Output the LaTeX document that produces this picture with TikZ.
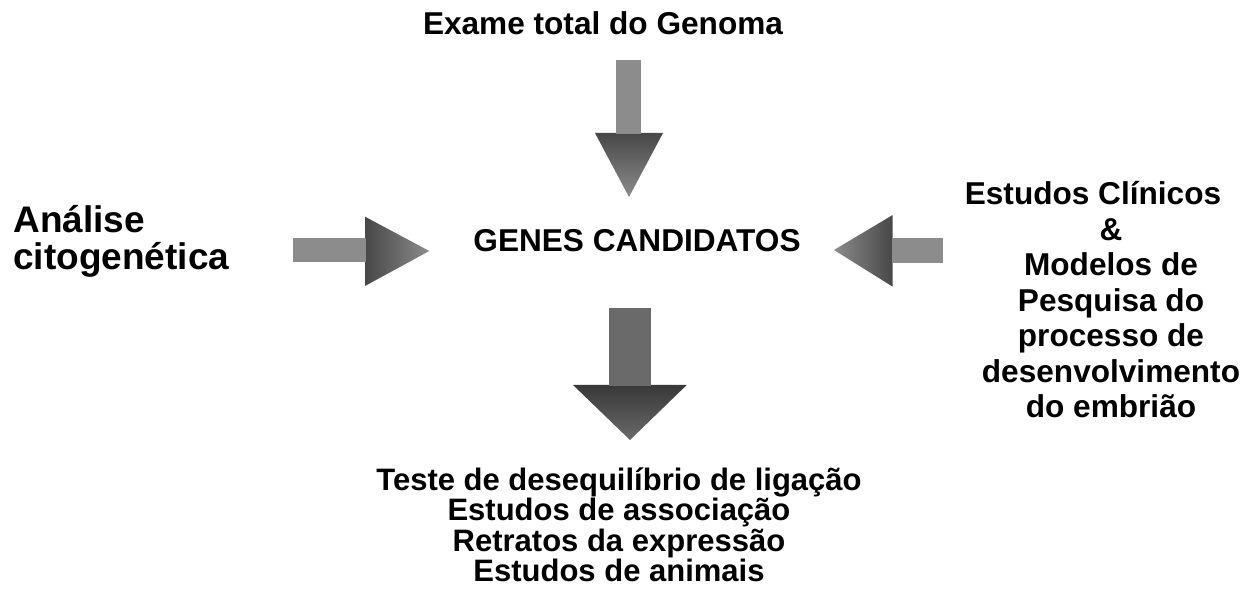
\documentclass[tikz,border=0pt]{standalone}
\usepackage{fontspec}
\setmainfont{Liberation Sans}
\usepackage{tikz}
\usetikzlibrary{positioning}
\definecolor{shaftgray}{HTML}{8C8C8C}
\definecolor{headdark}{HTML}{474747}
\definecolor{darkshaft}{HTML}{6A6A6A}
\definecolor{darkhead}{HTML}{383838}
\tikzset{
  txt/.style = {font=\bfseries\fontsize{15.8}{17.75}\selectfont, inner sep=0pt, align=center},
  listtxt/.style = {font=\bfseries\fontsize{15.5}{15.2}\selectfont, inner sep=0pt, align=center},
  bigtxt/.style = {font=\bfseries\fontsize{18.5}{18.65}\selectfont, inner sep=0pt, align=left},
}

\begin{document}
\begin{tikzpicture}[x=0.5pt,y=-0.5pt]
    \useasboundingbox (0,0) rectangle (1260,608);

    \node[txt, anchor=base] (genoma) at (603,35) {Exame total do Genoma};
    \node[txt, anchor=base] (genes) at (637,252) {GENES CANDIDATOS};
    \node[bigtxt, anchor=base west] (citogen) at (13,270) {Análise\\citogenética};
    \node[txt, anchor=base] (clinicos) at (1111,418)
        {Estudos Clínicos\hspace*{18pt}\\\&\\Modelos de\\Pesquisa do\\processo de\\desenvolvimento\\do embrião};
    \node[listtxt, anchor=base] (testes) at (619,581.7)
        {Teste de desequilíbrio de ligação\\Estudos de associação\\Retratos da expressão\\Estudos de animais};

    % top arrow
    \shade[top color=headdark, bottom color=shaftgray] (595,133) -- (663,133) -- (629,197) -- cycle;
    \fill[shaftgray] (616,60) rectangle (641,134);

    % left arrow
    \shade[left color=headdark, right color=shaftgray] (365,216.7) -- (365,286) -- (429.3,251) -- cycle;
    \fill[shaftgray] (293.3,238.3) rectangle (366,261.7);

    % right arrow
    \shade[right color=headdark, left color=shaftgray] (892.7,215) -- (892.7,286.7) -- (834,250) -- cycle;
    \fill[shaftgray] (892,237.7) rectangle (943,262.7);

    % bottom arrow
    \shade[top color=darkhead, bottom color=darkshaft] (573,385) -- (686.7,385) -- (630,440) -- cycle;
    \fill[darkshaft] (609.3,308.3) rectangle (651,386);
\end{tikzpicture}
\end{document}
